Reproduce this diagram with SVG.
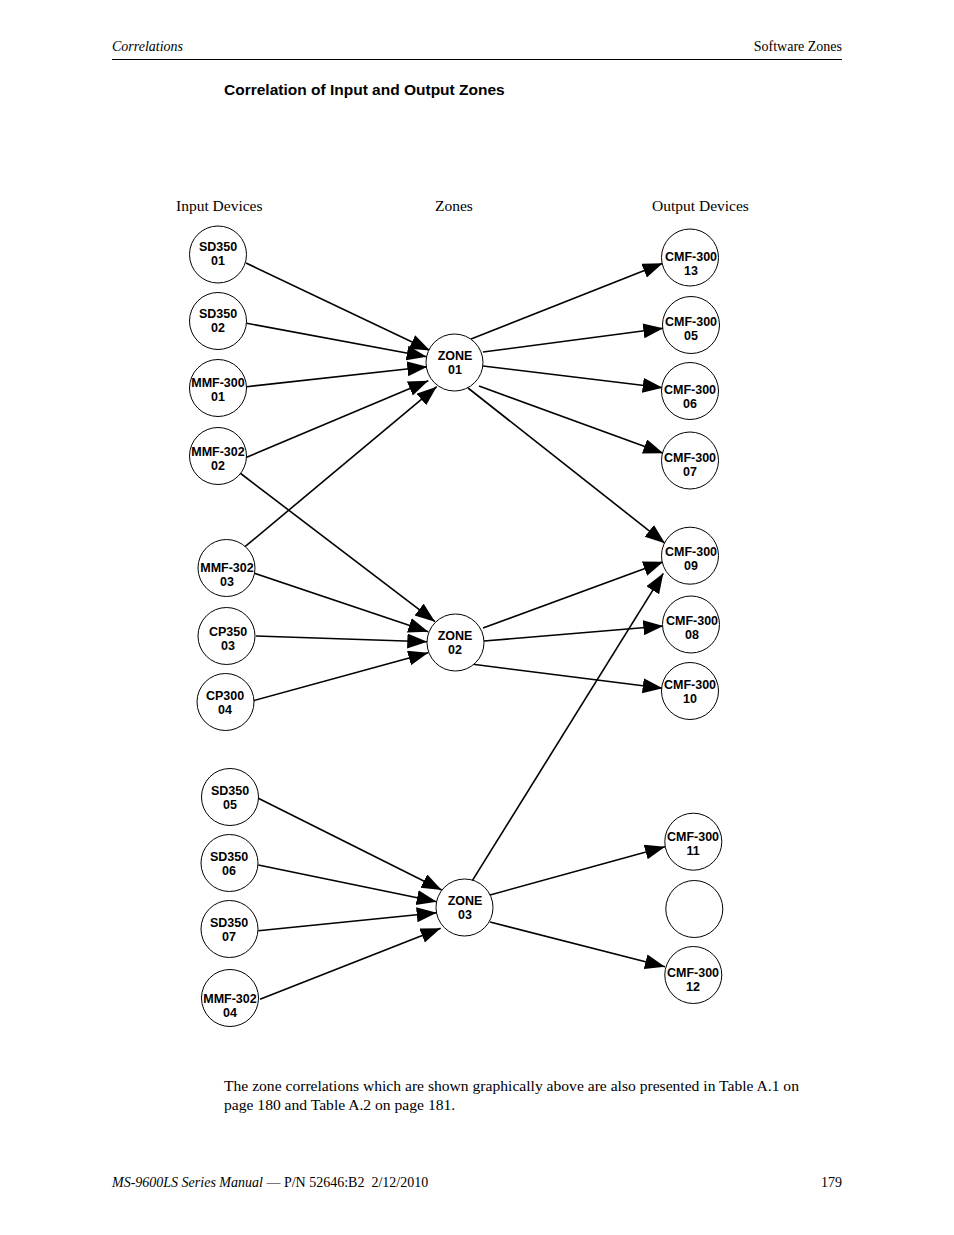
<svg xmlns="http://www.w3.org/2000/svg" width="954" height="1235" viewBox="0 0 954 1235">
<style>
.page{font-family:"Liberation Serif","Times New Roman",serif;fill:#000}
.it{font-style:italic}
.title{font-family:"Liberation Sans",Arial,sans-serif;font-weight:bold;font-size:15.5px}
.node circle{fill:#fff;stroke:#000;stroke-width:1}
.node text{font-family:"Liberation Sans",Arial,sans-serif;font-weight:bold;font-size:12.5px;text-anchor:middle;fill:#000}
.edges line{stroke:#000;stroke-width:1.6;marker-end:url(#ah)}
</style>
<defs>
<marker id="ah" markerUnits="userSpaceOnUse" markerWidth="21" markerHeight="16" refX="20" refY="7.5" orient="auto">
<path d="M0,0 L20,7.5 L0,15 z" fill="#000"/>
</marker>
</defs>
<rect width="954" height="1235" fill="#fff"/>
<g id="header">
<text class="page it" x="112" y="50.5" font-size="14">Correlations</text>
<text class="page" x="842" y="50.5" font-size="14" text-anchor="end">Software Zones</text>
<line x1="112" y1="59.5" x2="842" y2="59.5" stroke="#000" stroke-width="1"/>
<text class="title" x="224" y="94.5">Correlation of Input and Output Zones</text>
</g>
<g id="columns">
<text class="page" x="176" y="211" font-size="15.5">Input Devices</text>
<text class="page" x="435" y="211" font-size="15.5">Zones</text>
<text class="page" x="652" y="211" font-size="15.5">Output Devices</text>
</g>
<g class="edges" id="connectors">
<line x1="246" y1="263" x2="430" y2="350.5"/>
<line x1="246.7" y1="323.3" x2="426.7" y2="356.7"/>
<line x1="246.7" y1="386.7" x2="427.3" y2="366.7"/>
<line x1="246.7" y1="457.3" x2="428.3" y2="380.7"/>
<line x1="245" y1="546.7" x2="436.7" y2="386.7"/>
<line x1="240" y1="473" x2="435" y2="621.7"/>
<line x1="252.7" y1="572.7" x2="428.3" y2="631.7"/>
<line x1="256" y1="636" x2="427.3" y2="641.7"/>
<line x1="253.3" y1="700.7" x2="428.3" y2="652.7"/>
<line x1="471" y1="339" x2="662.7" y2="263.3"/>
<line x1="483" y1="352" x2="663.3" y2="328.3"/>
<line x1="483" y1="366" x2="662.7" y2="387.7"/>
<line x1="479" y1="386" x2="663.3" y2="453.3"/>
<line x1="468" y1="388" x2="665" y2="543.3"/>
<line x1="483" y1="628" x2="663.3" y2="561.7"/>
<line x1="484" y1="641" x2="663.3" y2="626"/>
<line x1="471" y1="664" x2="662.7" y2="688.3"/>
<line x1="258.3" y1="798.3" x2="441.7" y2="890"/>
<line x1="258.3" y1="865" x2="436.7" y2="901.7"/>
<line x1="258.3" y1="930.7" x2="436.7" y2="912.7"/>
<line x1="260" y1="999.3" x2="440.7" y2="928.3"/>
<line x1="471.7" y1="881.7" x2="663.3" y2="573.3"/>
<line x1="490" y1="895" x2="665" y2="846.7"/>
<line x1="490" y1="922" x2="665" y2="966.7"/>
</g>
<g class="node" id="sd350-01"><circle cx="218" cy="254.5" r="28.5"/><text x="218" y="250.5">SD350</text><text x="218" y="264.5">01</text></g>
<g class="node" id="sd350-02"><circle cx="218" cy="321" r="28.5"/><text x="218" y="317.5">SD350</text><text x="218" y="331.5">02</text></g>
<g class="node" id="mmf300-01"><circle cx="218" cy="388" r="28.5"/><text x="218" y="386.5">MMF-300</text><text x="218" y="400.5">01</text></g>
<g class="node" id="mmf302-02"><circle cx="218" cy="456" r="28.5"/><text x="218" y="455.5">MMF-302</text><text x="218" y="469.5">02</text></g>
<g class="node" id="mmf302-03"><circle cx="226.5" cy="568" r="28.5"/><text x="227" y="571.5">MMF-302</text><text x="227" y="585.5">03</text></g>
<g class="node" id="cp350-03"><circle cx="226.5" cy="636" r="28.5"/><text x="228" y="635.5">CP350</text><text x="228" y="649.5">03</text></g>
<g class="node" id="cp300-04"><circle cx="225.5" cy="702" r="28.5"/><text x="225" y="699.5">CP300</text><text x="225" y="713.5">04</text></g>
<g class="node" id="sd350-05"><circle cx="230" cy="797" r="28.5"/><text x="230" y="794.5">SD350</text><text x="230" y="808.5">05</text></g>
<g class="node" id="sd350-06"><circle cx="229.5" cy="863" r="28.5"/><text x="229" y="860.5">SD350</text><text x="229" y="874.5">06</text></g>
<g class="node" id="sd350-07"><circle cx="229.5" cy="929" r="28.5"/><text x="229" y="926.5">SD350</text><text x="229" y="940.5">07</text></g>
<g class="node" id="mmf302-04"><circle cx="230" cy="998" r="28.5"/><text x="230" y="1002.5">MMF-302</text><text x="230" y="1016.5">04</text></g>
<g class="node" id="zone-01"><circle cx="454.5" cy="362.5" r="28.5"/><text x="455" y="359.5">ZONE</text><text x="455" y="373.5">01</text></g>
<g class="node" id="zone-02"><circle cx="455.5" cy="642.5" r="28.5"/><text x="455" y="639.5">ZONE</text><text x="455" y="653.5">02</text></g>
<g class="node" id="zone-03"><circle cx="464.5" cy="907.5" r="28.5"/><text x="465" y="904.5">ZONE</text><text x="465" y="918.5">03</text></g>
<g class="node" id="cmf300-13"><circle cx="690" cy="257.5" r="28.5"/><text x="691" y="260.5">CMF-300</text><text x="691" y="274.5">13</text></g>
<g class="node" id="cmf300-05"><circle cx="691" cy="325" r="28.5"/><text x="691" y="325.5">CMF-300</text><text x="691" y="339.5">05</text></g>
<g class="node" id="cmf300-06"><circle cx="690" cy="391" r="28.5"/><text x="690" y="393.5">CMF-300</text><text x="690" y="407.5">06</text></g>
<g class="node" id="cmf300-07"><circle cx="690" cy="460.5" r="28.5"/><text x="690" y="461.5">CMF-300</text><text x="690" y="475.5">07</text></g>
<g class="node" id="cmf300-09"><circle cx="690" cy="555.7" r="28.5"/><text x="691" y="555.5">CMF-300</text><text x="691" y="569.5">09</text></g>
<g class="node" id="cmf300-08"><circle cx="691" cy="624.5" r="28.5"/><text x="692" y="624.5">CMF-300</text><text x="692" y="638.5">08</text></g>
<g class="node" id="cmf300-10"><circle cx="690" cy="691" r="28.5"/><text x="690" y="688.5">CMF-300</text><text x="690" y="702.5">10</text></g>
<g class="node" id="cmf300-11"><circle cx="693.3" cy="841.7" r="28.5"/><text x="693" y="840.5">CMF-300</text><text x="693" y="854.5">11</text></g>
<g class="node" id="empty"><circle cx="694.3" cy="909" r="28.5"/></g>
<g class="node" id="cmf300-12"><circle cx="693.3" cy="975" r="28.5"/><text x="693" y="976.5">CMF-300</text><text x="693" y="990.5">12</text></g>
<g id="body">
<text class="page" x="224" y="1091" font-size="15.6">The zone correlations which are shown graphically above are also presented in Table A.1 on</text>
<text class="page" x="224" y="1110" font-size="15.6">page 180 and Table A.2 on page 181.</text>
</g>
<g id="footer">
<text class="page" x="112" y="1187" font-size="14" xml:space="preserve"><tspan class="it">MS-9600LS Series Manual</tspan> — P/N 52646:B2  2/12/2010</text>
<text class="page" x="842" y="1187" font-size="14" text-anchor="end">179</text>
</g>
</svg>
